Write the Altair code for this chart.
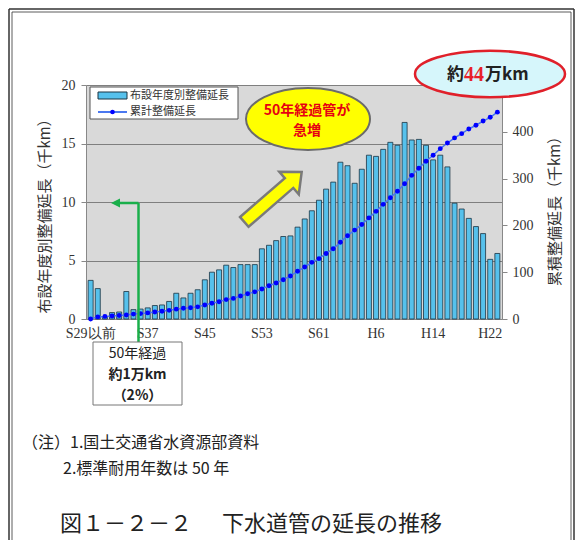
import altair as alt
import pandas as pd

# ---------------- data ----------------
categories = (["S29以前"] + ["S%d" % n for n in range(30, 64)] + ["H%d" % n for n in range(1, 24)])
annual_km = [3.3, 2.6, 0.15, 0.55, 0.6, 2.35, 0.8, 0.85, 0.95, 1.15,
             1.2, 1.5, 2.2, 1.8, 2.2, 2.5, 3.35, 4.0, 4.2, 4.6,
             4.4, 4.65, 4.65, 4.65, 6.0, 6.3, 6.7, 7.05, 7.1, 7.85,
             8.55, 9.25, 10.15, 11.1, 11.7, 13.4, 13.1, 11.6, 12.8, 14.0,
             13.9, 14.5, 15.1, 14.85, 16.8, 15.3, 15.35, 14.85, 13.6, 14.0,
             13.0, 9.9, 9.4, 8.6, 7.9, 7.3, 5.1, 5.6]
cumulative_km = [0, 4.5, 5.5, 6.5, 7.5, 8.5, 10.5, 11.5, 13, 15,
                 16.5, 18.5, 21, 23, 24, 26, 30, 33.5, 37, 41.5,
                 44, 49, 54, 58, 64, 71, 77, 84, 92, 102,
                 111, 121, 129, 140, 150, 164, 178, 190, 202, 216,
                 230, 245, 259, 273, 289, 307, 322, 337, 350, 364,
                 376, 387, 396, 406, 414, 423, 431, 442]
x_tick_labels = ["S29以前", "S37", "S45", "S53", "S61", "H6", "H14", "H22"]
left_ticks = [0, 5, 10, 15, 20]
right_ticks = [0, 100, 200, 300, 400]

left_title = "布設年度別整備延長（千km）"
right_title = "累積整備延長（千km）"
legend_labels = ["布設年度別整備延長", "累計整備延長"]
bubble_lines = ["50年経過管が", "急増"]
total_parts = ["約", "44", "万km"]
box_lines = ["50年経過", "約1万km", "（2%）"]
notes = ["（注）1.国土交通省水資源部資料", "2.標準耐用年数は 50 年"]
caption = ["図１－２－２", "下水道管の延長の推移"]

df = pd.DataFrame({"year": categories, "annual": annual_km, "cum": cumulative_km})
one = pd.DataFrame({"k": [0]})

# ---------------- style ----------------
JP = "Noto Sans CJK JP"
SERIF = "Liberation Serif"
BAR = "#56c1ec"
BAR_EDGE = "#1b3443"
LINE = "#4a78f0"
DOT = "#0000ff"
GRID = "#7f7f7f"
PLOT_BG = "#d9d9d9"

W, H = 416, 234
PLOT_X, PLOT_Y = 86, 85          # plot origin on the page
SVG_W, SVG_H = 567, 532


def px(x):
    return x - PLOT_X


def py(y):
    return y - PLOT_Y


def text_at(x, y, s, size=12, color="#222", weight="normal", align="left", font=JP):
    return alt.Chart(one).mark_text(text=s, fontSize=size, color=color, fontWeight=weight,
                                    align=align, baseline="middle", font=font).encode(
        x=alt.value(px(x)), y=alt.value(py(y)))


def shape_at(x, y, path, size, fill, stroke, sw, angle=0):
    return alt.Chart(one).mark_point(shape=path, size=size, filled=True, fill=fill, stroke=stroke,
                                     strokeWidth=sw, angle=angle, opacity=1).encode(
        x=alt.value(px(x)), y=alt.value(py(y)))


def rect_at(x1, y1, x2, y2, fill, stroke, sw=1):
    return alt.Chart(one).mark_rect(fill=fill, stroke=stroke, strokeWidth=sw).encode(
        x=alt.value(px(x1)), x2=alt.value(px(x2)), y=alt.value(py(y1)), y2=alt.value(py(y2)))


def rule_at(x1, y1, x2, y2, color, sw):
    return alt.Chart(one).mark_rule(color=color, strokeWidth=sw).encode(
        x=alt.value(px(x1)), x2=alt.value(px(x2)), y=alt.value(py(y1)), y2=alt.value(py(y2)))


def ellipse_path(r):
    k = 0.5523
    return ("M-1,0 C-1,{a} {b},{c} 0,{c} C{d},{c} 1,{a} 1,0 C1,{e} {d},{f} 0,{f} "
            "C{b},{f} -1,{e} -1,0 Z").format(a=-k * r, b=-k, c=-r, d=k, e=k * r, f=r)


ARROW = "M-1,-0.17 L0.56,-0.17 L0.56,-0.39 L1,0 L0.56,0.39 L0.56,0.17 L-1,0.17 Z"
TRI_LEFT = "M-1,0 L1,-1 L1,1 Z"

# ---------------- main chart ----------------
xenc = alt.X("year:N", sort=categories,
             scale=alt.Scale(paddingInner=0.3, paddingOuter=0.3),
             axis=alt.Axis(values=x_tick_labels, title=None, labelAngle=0, ticks=False,
                           labelFont=SERIF, labelFontSize=14, labelColor="#333",
                           labelPadding=7, domainColor="#888"))

bars = alt.Chart(df).mark_bar(fill=BAR, stroke=BAR_EDGE, strokeWidth=0.8).encode(
    x=xenc,
    y=alt.Y("annual:Q", scale=alt.Scale(domain=[0, 20], nice=False),
            axis=alt.Axis(orient="left", values=left_ticks, grid=True, gridColor=GRID,
                          gridWidth=1, domainColor="#888", tickColor="#888", tickSize=5,
                          labelFont=SERIF, labelFontSize=14, labelColor="#333", labelPadding=6,
                          title=left_title, titleFont=JP, titleFontSize=15,
                          titleFontWeight="normal", titleColor="#333", titleAngle=270,
                          titleAlign="center", titleBaseline="middle",
                          titleX=-42, titleY=127)),
)

line = alt.Chart(df).mark_line(color=LINE, strokeWidth=1.5,
                               point=alt.OverlayMarkDef(filled=True, fill=DOT, color=DOT,
                                                        size=24, opacity=1)).encode(
    x=xenc,
    y=alt.Y("cum:Q", scale=alt.Scale(domain=[0, 500], nice=False),
            axis=alt.Axis(orient="right", values=right_ticks, grid=False,
                          domainColor="#888", tickColor="#888", tickSize=5,
                          labelFont=SERIF, labelFontSize=14, labelColor="#333", labelPadding=5,
                          title=right_title, titleFont=JP, titleFontSize=15,
                          titleFontWeight="normal", titleColor="#333", titleAngle=270,
                          titleAlign="center", titleBaseline="middle",
                          titleX=52, titleY=122)),
)

layers = [bars, line]

# yellow arrow
layers.append(shape_at(273, 197, ARROW, 76 * 76, "#ffff00", "#7a7a7a", 2.5, angle=319))

# yellow bubble
layers.append(shape_at(308, 119, ellipse_path(0.5), 124 * 124, "#ffff00", "#6b6b6b", 2))
layers.append(text_at(307, 111, bubble_lines[0], size=14, color="#e60012", weight="bold", align="center"))
layers.append(text_at(307, 131, bubble_lines[1], size=14, color="#e60012", weight="bold", align="center"))

# cyan bubble (total)
layers.append(shape_at(490, 74, ellipse_path(0.31), 150 * 150, "#d6f6fb", "#e0202a", 2.5))
layers.append(text_at(447, 75, total_parts[0], size=17, color="#222", weight="bold"))
layers.append(text_at(464, 75, total_parts[1], size=20, color="#e8202a", weight="bold", font=SERIF))
layers.append(text_at(485, 75, total_parts[2], size=17, color="#222", weight="bold"))

# legend
layers.append(rect_at(90, 87, 238, 119, "#ffffff", "#555555", 1))
layers.append(rect_at(98, 92, 127, 99, BAR, BAR_EDGE, 1))
layers.append(rule_at(98, 112, 127, 112, LINE, 2))
layers.append(shape_at(112.5, 112, "circle", 22, DOT, DOT, 0))
layers.append(text_at(130, 95.5, legend_labels[0], size=11, color="#333"))
layers.append(text_at(130, 112, legend_labels[1], size=11, color="#333"))

# green arrow and box
GREEN = "#1aaf4b"
layers.append(rule_at(138.5, 203, 138.5, 342, GREEN, 2.5))
layers.append(rule_at(119, 203, 138.5, 203, GREEN, 2.5))
layers.append(shape_at(115.5, 203, TRI_LEFT, 81, GREEN, GREEN, 0))
layers.append(rect_at(93, 342, 182, 405, "#ffffff", "#777777", 1))
layers.append(text_at(137.5, 354, box_lines[0], size=14, color="#222", align="center"))
layers.append(text_at(137.5, 375, box_lines[1], size=14, color="#222", weight="bold", align="center"))
layers.append(text_at(137.5, 396, box_lines[2], size=14, color="#222", weight="bold", align="center"))

# notes and caption
layers.append(text_at(22, 443, notes[0], size=16, color="#222"))
layers.append(text_at(63, 469, notes[1], size=16, color="#222"))
layers.append(text_at(60, 524, caption[0], size=22, color="#222"))
layers.append(text_at(222, 524, caption[1], size=22, color="#222"))

# page frame (double line)
L, T, R, B = 9, 9, 8 + SVG_W - 1, 8 + SVG_H
layers.append(rule_at(L, T, L, B, "#333333", 1.5))
layers.append(rule_at(L + 3, T + 3, L + 3, B, "#333333", 0.8))
layers.append(rule_at(R, T, R, B, "#333333", 1.5))
layers.append(rule_at(R - 3, T + 3, R - 3, B, "#333333", 0.8))
layers.append(rule_at(L, T, R, T, "#333333", 1.5))
layers.append(rule_at(L + 3, T + 3, R - 3, T + 3, "#333333", 0.8))

chart = alt.layer(*layers).resolve_scale(y="independent").properties(
    width=W, height=H,
    padding={"left": PLOT_X - 8, "top": PLOT_Y - 8,
             "right": SVG_W - (PLOT_X - 8) - W, "bottom": SVG_H - (PLOT_Y - 8) - H},
    autosize=alt.AutoSizeParams(type="none"),
    background="white",
).configure_view(fill=PLOT_BG, stroke=None)

chart.save("out.html", embed_options={"renderer": "svg", "actions": False})
